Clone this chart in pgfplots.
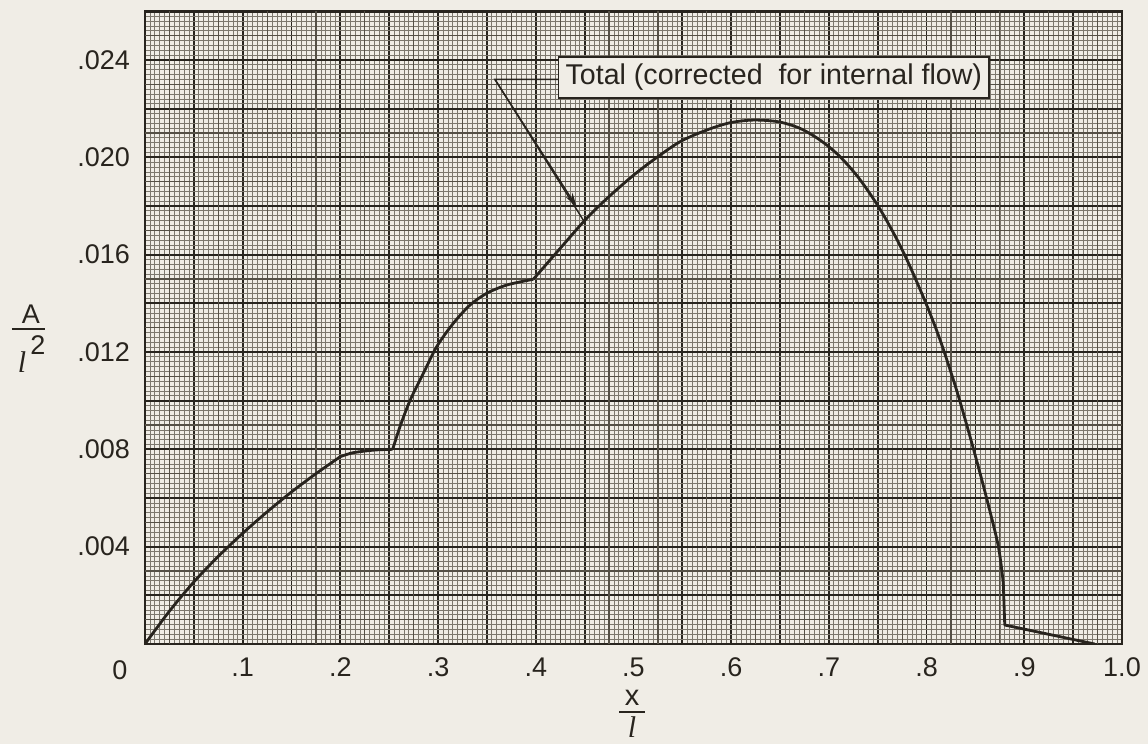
\documentclass[border=0pt]{standalone}
\usepackage{fontspec}
\setmainfont{Liberation Sans}
\newfontfamily\ellfont{Liberation Serif}
\usepackage{pgfplots}
\pgfplotsset{compat=1.18}
\usetikzlibrary{arrows.meta}
\definecolor{paper}{RGB}{240,237,230}
\definecolor{ink}{RGB}{40,36,30}
\definecolor{fine}{RGB}{125,120,110}
\definecolor{mid}{RGB}{85,80,70}
\newcommand{\ltr}{{\ellfont\itshape l}}

% curve A/l^2, split where it has corners
\pgfplotstableread{
x y
0 0
0.025 0.00135
0.05 0.00255
0.075 0.0036
0.1 0.00455
0.125 0.00543
0.15 0.00625
0.175 0.0070
0.2 0.0077
}\segA
\pgfplotstableread{
x y
0.2 0.0077
0.213 0.00786
0.235 0.00797
0.2535 0.0080
}\segB
\pgfplotstableread{
x y
0.2535 0.0080
0.261 0.00893
0.2712 0.0100
0.2849 0.01112
0.2986 0.01222
0.3156 0.01318
0.3327 0.01393
0.3497 0.01441
0.3702 0.01475
0.3975 0.01499
}\segC
\pgfplotstableread{
x y
0.3975 0.01499
0.4248 0.01625
0.4504 0.01742
0.4726 0.01830
0.4981 0.0192
0.5203 0.01989
0.5476 0.02064
0.5749 0.02112
0.5988 0.02142
0.6227 0.02153
0.6483 0.02146
0.6704 0.02119
0.6909 0.02071
0.71 0.02008
0.73 0.01918
0.75 0.01802
0.766 0.01690
0.78 0.01578
0.7984 0.01409
0.8137 0.01251
0.8308 0.01042
0.8478 0.00804
0.8615 0.00598
0.8734 0.00402
0.8785 0.0025
}\segD
\pgfplotstableread{
x y
0.8785 0.0025
0.880 0.00078
0.972 0.0
}\segE

\begin{document}
\begin{tikzpicture}
\path[use as bounding box, fill=paper] (-72.5pt,-50pt) rectangle (501.5pt,322pt);
\begin{axis}[
  scale only axis, width=488.5pt, height=316.35pt,
  xmin=0, xmax=1, ymin=0, ymax=0.026,
  xtick={0,0.05,0.1,0.15,0.2,0.25,0.3,0.35,0.4,0.45,0.5,0.55,0.6,0.65,0.7,0.75,0.8,0.85,0.9,0.95,1},
  xticklabels={{},{},.1,{},.2,{},.3,{},.4,{},.5,{},.6,{},.7,{},.8,{},.9,{},1.0},
  ytick={0,0.002,0.004,0.006,0.008,0.010,0.012,0.014,0.016,0.018,0.020,0.022,0.024,0.026},
  yticklabels={{},{},.004,{},.008,{},.012,{},.016,{},.020,{},.024,{}},
  scaled x ticks=false, scaled y ticks=false,
  minor x tick num=9, minor y tick num=9,
  grid=both,
  minor grid style={fine, line width=0.35pt},
  major grid style={ink, line width=0.9pt},
  extra x ticks={0.025,0.075,0.125,0.175,0.225,0.275,0.325,0.375,0.425,0.475,0.525,0.575,0.625,0.675,0.725,0.775,0.825,0.875,0.925,0.975},
  extra x tick labels={},
  extra y ticks={0.001,0.003,0.005,0.007,0.009,0.011,0.013,0.015,0.017,0.019,0.021,0.023,0.025},
  extra y tick labels={},
  extra tick style={grid=major, major grid style={mid, line width=0.6pt}},
  major tick length=0pt, minor tick length=0pt,
  axis line style={ink, line width=1.3pt},
  tick label style={font=\fontsize{13.5}{14}\selectfont, text=ink},
  yticklabel style={xshift=-4pt},
  xticklabel style={yshift=-3.5pt},
  every axis plot/.style={ink, line width=1.4pt, line join=round},
]
\addplot[smooth, tension=0.5] table[x=x, y=y] {\segA};
\addplot[smooth, tension=0.5] table[x=x, y=y] {\segB};
\addplot[smooth, tension=0.5] table[x=x, y=y] {\segC};
\addplot[smooth, tension=0.5] table[x=x, y=y] {\segD};
\addplot[sharp plot] table[x=x, y=y] {\segE};
\draw[ink, line width=0.7pt] (axis cs:0.4227,0.0232) -- (axis cs:0.3582,0.0232) -- (axis cs:0.4486,0.01742);
\draw[ink, line width=0.7pt, -{Stealth[length=7pt,width=4pt]}] (axis cs:0.3582,0.0232) -- (axis cs:0.4418,0.01797);
\node[draw=ink, line width=0.6pt, fill=paper, anchor=west, inner xsep=3.5pt, minimum height=20.5pt,
      font=\fontsize{14.3}{15}\selectfont, text=ink] at (axis cs:0.4227,0.02328) {Total (corrected\ \ for internal flow)};
\end{axis}
\begin{scope}[every node/.style={font=\fontsize{13.5}{14}\selectfont, text=ink, inner sep=0pt}]
\node at (-12.5pt,-13pt) {0};
% y label A / l^2
\node[anchor=base] at (-57pt,160pt) {A};
\draw[ink, line width=0.7pt] (-66.5pt,157.5pt) -- (-50pt,157.5pt);
\node[anchor=base, font=\fontsize{15}{15}\selectfont] at (-61.5pt,135.5pt) {\ltr};
\node[anchor=base] at (-53.5pt,144.5pt) {2};
% x label x / l
\node[anchor=base, font=\fontsize{14.5}{15}\selectfont] at (243.5pt,-31pt) {x};
\draw[ink, line width=0.7pt] (237pt,-34pt) -- (250pt,-34pt);
\node[anchor=base, font=\fontsize{15}{15}\selectfont] at (243.5pt,-47pt) {\ltr};
\end{scope}
\end{tikzpicture}
\end{document}
